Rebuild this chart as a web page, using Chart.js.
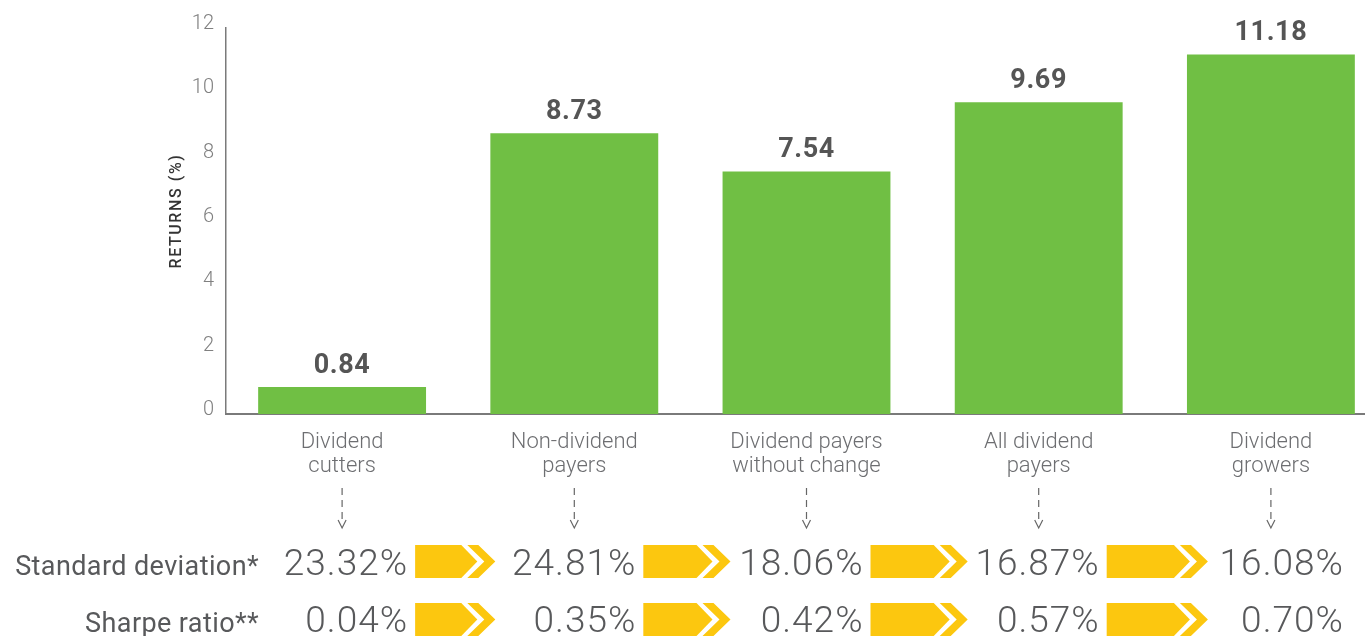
<!DOCTYPE html>
<html>
<head>
<meta charset="utf-8">
<script src="https://cdn.jsdelivr.net/npm/chart.js@4.4.1/dist/chart.umd.min.js"></script>
<style>
  html, body { margin: 0; padding: 0; background: #fff; overflow: hidden; }
  #wrap { width: 1365px; height: 636px; overflow: hidden; }
</style>
</head>
<body>
<div id="wrap"><canvas id="chart" width="1388" height="636"></canvas></div>
<script>
const categories = [
  ["Dividend", "cutters"],
  ["Non-dividend", "payers"],
  ["Dividend payers", "without change"],
  ["All dividend", "payers"],
  ["Dividend", "growers"]
];
const returns = [0.84, 8.73, 7.54, 9.69, 11.18];
const stdDev = [23.32, 24.81, 18.06, 16.87, 16.08];
const sharpe = [0.04, 0.35, 0.42, 0.57, 0.70];
const rowLabels = ["Standard deviation*", "Sharpe ratio**"];
const yMin = 0, yMax = 12, yStep = 2;

const GREEN = "#70bf44";
const YELLOW = "#fcc70f";
const TEXT = "#58595b";
const FONT = "Roboto, 'Liberation Sans', sans-serif";

// table layout, relative to the bar centres
const valueShift = [65, 61, 56, 60, 72];      // right edge of value text
const arrowEndShift = [-79, -76, -71, -63];    // arrow tip, from next column centre
const rowBaseline = [575, 632];
const rowArrowTop = [545, 603];

function drawArrow(ctx, s, e, top) {
  const h = 33, mid = top + h / 2;
  ctx.fillStyle = YELLOW;
  ctx.beginPath();
  ctx.moveTo(s, top);
  ctx.lineTo(e - 34, top);
  ctx.lineTo(e - 18, mid);
  ctx.lineTo(e - 34, top + h);
  ctx.lineTo(s, top + h);
  ctx.closePath();
  ctx.fill();
  ctx.beginPath();
  ctx.moveTo(e - 28, top);
  ctx.lineTo(e - 17, top);
  ctx.lineTo(e, mid);
  ctx.lineTo(e - 17, top + h);
  ctx.lineTo(e - 28, top + h);
  ctx.lineTo(e - 11, mid);
  ctx.closePath();
  ctx.fill();
}

const extras = {
  id: "extras",
  afterDraw(chart) {
    const ctx = chart.ctx;
    const meta = chart.getDatasetMeta(0);
    const xs = meta.data.map(b => b.x);
    ctx.save();

    // value labels above bars
    ctx.font = "700 27px " + FONT;
    ctx.letterSpacing = "0.6px";
    ctx.fillStyle = "#555";
    ctx.textAlign = "center";
    ctx.textBaseline = "alphabetic";
    meta.data.forEach((bar, i) => {
      ctx.fillText(returns[i].toFixed(2), bar.x, bar.y - 14);
    });
    ctx.letterSpacing = "0px";

    // dashed pointers under the category labels
    ctx.strokeStyle = "#666";
    ctx.lineWidth = 1.2;
    xs.forEach(x => {
      ctx.setLineDash([7, 5]);
      ctx.beginPath();
      ctx.moveTo(x, 488);
      ctx.lineTo(x, 520);
      ctx.stroke();
      ctx.setLineDash([]);
      ctx.beginPath();
      ctx.moveTo(x - 4, 520);
      ctx.lineTo(x, 528);
      ctx.lineTo(x + 4, 520);
      ctx.stroke();
    });

    // y axis title
    ctx.save();
    ctx.translate(181, 211);
    ctx.rotate(-Math.PI / 2);
    ctx.font = "500 16px " + FONT;
    ctx.letterSpacing = "1.6px";
    ctx.fillStyle = "#333";
    ctx.textAlign = "center";
    ctx.textBaseline = "alphabetic";
    ctx.fillText("RETURNS (%)", 0, 0);
    ctx.restore();

    // stats rows
    const rows = [stdDev, sharpe];
    rows.forEach((vals, r) => {
      ctx.font = "400 27px " + FONT;
      ctx.letterSpacing = "0.4px";
      ctx.fillStyle = TEXT;
      ctx.textAlign = "right";
      ctx.fillText(rowLabels[r], 259, rowBaseline[r]);
      ctx.font = "300 37px " + FONT;
      ctx.letterSpacing = "1px";
      vals.forEach((v, i) => {
        const right = xs[i] + valueShift[i];
        ctx.fillStyle = TEXT;
        ctx.fillText(v.toFixed(2) + "%", right + 1, rowBaseline[r]);
        if (i < vals.length - 1) {
          drawArrow(ctx, right + 8, xs[i + 1] + arrowEndShift[i], rowArrowTop[r]);
        }
      });
    });
    ctx.restore();
  }
};

new Chart(document.getElementById("chart"), {
  type: "bar",
  data: {
    labels: categories,
    datasets: [{
      data: returns,
      backgroundColor: GREEN,
      borderWidth: 0,
      barPercentage: 0.723,
      categoryPercentage: 1
    }]
  },
  options: {
    responsive: false,
    animation: false,
    layout: { padding: { top: 28, right: 1, left: 0, bottom: 0 } },
    plugins: {
      legend: { display: false },
      tooltip: { enabled: false }
    },
    scales: {
      x: {
        grid: { display: false, drawTicks: false },
        border: { color: "#7a7a7a", width: 2 },
        ticks: {
          padding: 16,
          color: "#6d6e71",
          font: { family: FONT, size: 22, weight: 300, lineHeight: 1.1 },
          maxRotation: 0,
          autoSkip: false
        },
        afterFit(scale) { scale.height = 222; }
      },
      y: {
        min: yMin,
        max: yMax,
        grid: { display: false, drawTicks: false },
        border: { color: "#7a7a7a", width: 1.5 },
        ticks: {
          stepSize: yStep,
          padding: 12,
          labelOffset: -4,
          color: "#808080",
          font: { family: FONT, size: 20, weight: 300 }
        },
        afterFit(scale) { scale.width = 226; }
      }
    }
  },
  plugins: [extras]
});
</script>
</body>
</html>
